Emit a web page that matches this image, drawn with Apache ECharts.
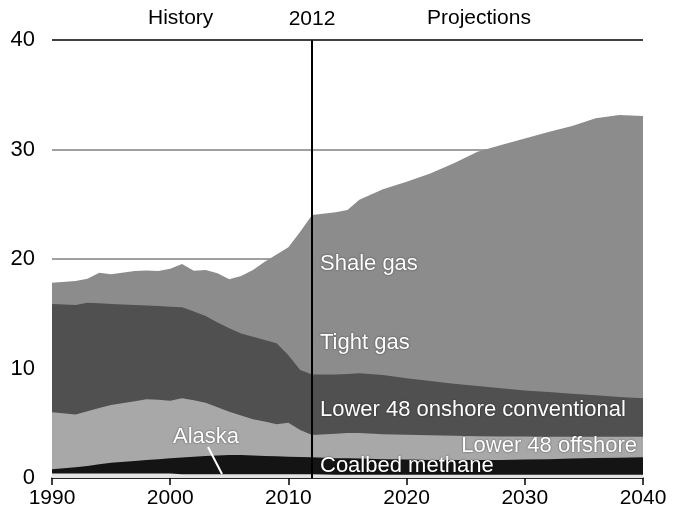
<!DOCTYPE html>
<html>
<head>
<meta charset="utf-8">
<script src="https://cdn.jsdelivr.net/npm/echarts@6/dist/echarts.min.js"></script>
<style>
html,body{margin:0;padding:0;background:#fff;}
#chart{width:673px;height:514px;}
</style>
</head>
<body>
<div id="chart"></div>
<script>
var years = [1990,1992,1993,1994,1995,1997,1998,1999,2000,2001,2002,2003,2004,2005,2006,2007,2008,2009,2010,2011,2012,2014,2015,2016,2018,2020,2022,2024,2026,2028,2030,2032,2034,2036,2038,2040];
var alaska = [0.4,0.4,0.4,0.4,0.4,0.4,0.4,0.4,0.4,0.35,0.35,0.35,0.35,0.35,0.35,0.35,0.35,0.35,0.35,0.35,0.35,0.3,0.3,0.3,0.3,0.3,0.3,0.3,0.3,0.3,0.3,0.3,0.3,0.3,0.3,0.3];
var coalbed = [0.4,0.58,0.7,0.85,1.0,1.15,1.25,1.32,1.4,1.53,1.6,1.65,1.7,1.75,1.75,1.7,1.65,1.63,1.6,1.57,1.55,1.5,1.5,1.48,1.42,1.38,1.35,1.34,1.34,1.35,1.38,1.42,1.48,1.52,1.56,1.59];
var offshore = [5.2,4.82,5.0,5.15,5.27,5.45,5.54,5.43,5.26,5.4,5.15,4.88,4.4,3.95,3.6,3.31,3.15,2.92,3.1,2.46,2.03,2.25,2.3,2.32,2.28,2.27,2.25,2.21,2.18,2.15,2.1,2.05,1.99,1.95,1.91,1.88];
var onshore = [9.9,10.0,9.9,9.55,9.23,8.8,8.56,8.55,8.59,8.32,8.1,7.92,7.75,7.62,7.5,7.54,7.45,7.4,6.15,5.48,5.52,5.4,5.4,5.46,5.4,5.15,4.95,4.75,4.58,4.4,4.22,4.08,3.93,3.78,3.63,3.51];
var tight = [1.74,1.95,1.9,2.5,2.4,2.75,2.85,2.85,3.05,3.54,3.28,3.7,3.95,3.78,4.25,4.8,5.15,5.0,4.87,4.84,4.87,4.61,4.37,4.44,4.46,4.56,4.65,4.84,5.1,5.2,5.3,5.45,5.55,5.8,5.95,5.98];
var shale = [0.2,0.25,0.3,0.3,0.3,0.35,0.35,0.35,0.4,0.4,0.45,0.5,0.55,0.7,1.0,1.3,2.0,3.1,5.0,7.8,9.7,10.2,10.6,11.4,12.5,13.4,14.3,15.3,16.3,17.0,17.7,18.3,18.9,19.5,19.8,19.8];
var yTicks = [0,10,20,30,40];
var xTicks = [1990,2000,2010,2020,2030,2040];
var splitYear = 2012;

// layers bottom -> top
var layers = [
  {name:'Alaska', v:alaska, color:'#e4e4e4'},
  {name:'Coalbed methane', v:coalbed, color:'#141414'},
  {name:'Lower 48 offshore', v:offshore, color:'#a8a8a8'},
  {name:'Lower 48 onshore conventional', v:onshore, color:'#505050'},
  {name:'Tight gas', v:tight, color:'#8c8c8c'},
  {name:'Shale gas', v:shale, color:'#8c8c8c'}
];
var running = years.map(function(){return 0;});
layers.forEach(function(l){
  l.top = years.map(function(y,i){ running[i] += l.v[i]; return [y, +running[i].toFixed(3)]; });
});

var chart = echarts.init(document.getElementById('chart'), null, {renderer:'canvas'});
var FONT = 'Arial, "Liberation Sans", sans-serif';
var labelStyle = {fill:'#fff', font:'22px ' + FONT, textShadowColor:'rgba(0,0,0,0.6)', textShadowBlur:2};

var series = [];
for (var i = layers.length - 1; i >= 0; i--) {
  var l = layers[i];
  var s = {
    name:l.name, type:'line', data:l.top, showSymbol:false, symbol:'none',
    lineStyle:{width:0}, areaStyle:{color:l.color, opacity:1, origin:'start'},
    silent:true, animation:false
  };
  if (i === 0) {
    s.markLine = {
      silent:true, symbol:'none', animation:false,
      data:[
        {xAxis:splitYear, lineStyle:{color:'#000', width:2, type:'solid'},
         label:{show:true, position:'end', formatter:'2012', color:'#000', fontSize:21, fontFamily:FONT, distance:10}},
        {yAxis:40, lineStyle:{color:'#222', width:1.5, type:'solid'}, label:{show:false}}
      ]
    };
  }
  series.push(s);
}

var option = {
  animation:false,
  backgroundColor:'#fff',
  grid:{left:52, right:30, top:40, bottom:36, containLabel:false},
  xAxis:{
    type:'value', min:1990, max:2040, interval:10,
    axisLine:{show:true, lineStyle:{color:'#000', width:1.5}},
    axisTick:{show:true, length:7, lineStyle:{color:'#000', width:1.5}},
    axisLabel:{color:'#000', fontSize:21, fontFamily:FONT, margin:10, formatter:function(v){return String(v);}},
    splitLine:{show:false}
  },
  yAxis:{
    type:'value', min:0, max:40, interval:10,
    axisLine:{show:false}, axisTick:{show:false},
    axisLabel:{color:'#000', fontSize:22, fontFamily:FONT, margin:17},
    splitLine:{show:true, lineStyle:{color:'#808080', width:1.5}}
  },
  series:series,
  graphic:[
    {type:'text', left:148, top:8, z:10, style:{text:'History', fill:'#000', font:'21px ' + FONT}},
    {type:'text', left:427, top:8, z:10, style:{text:'Projections', fill:'#000', font:'21px ' + FONT}},
    {type:'text', left:320, top:253, z:10, style:Object.assign({text:'Shale gas'}, labelStyle)},
    {type:'text', left:320, top:332, z:10, style:Object.assign({text:'Tight gas'}, labelStyle)},
    {type:'text', left:320, top:399, z:10, style:Object.assign({text:'Lower 48 onshore conventional'}, labelStyle)},
    {type:'text', right:36, top:435, z:10, style:Object.assign({text:'Lower 48 offshore'}, labelStyle)},
    {type:'text', left:320, top:455, z:10, style:Object.assign({text:'Coalbed methane'}, labelStyle)},
    {type:'text', left:173, top:426, z:10, style:Object.assign({text:'Alaska'}, labelStyle)},
    {type:'line', z:10, shape:{x1:208, y1:447, x2:222, y2:474}, style:{stroke:'#fff', lineWidth:2}}
  ]
};
chart.setOption(option);
</script>
</body>
</html>
